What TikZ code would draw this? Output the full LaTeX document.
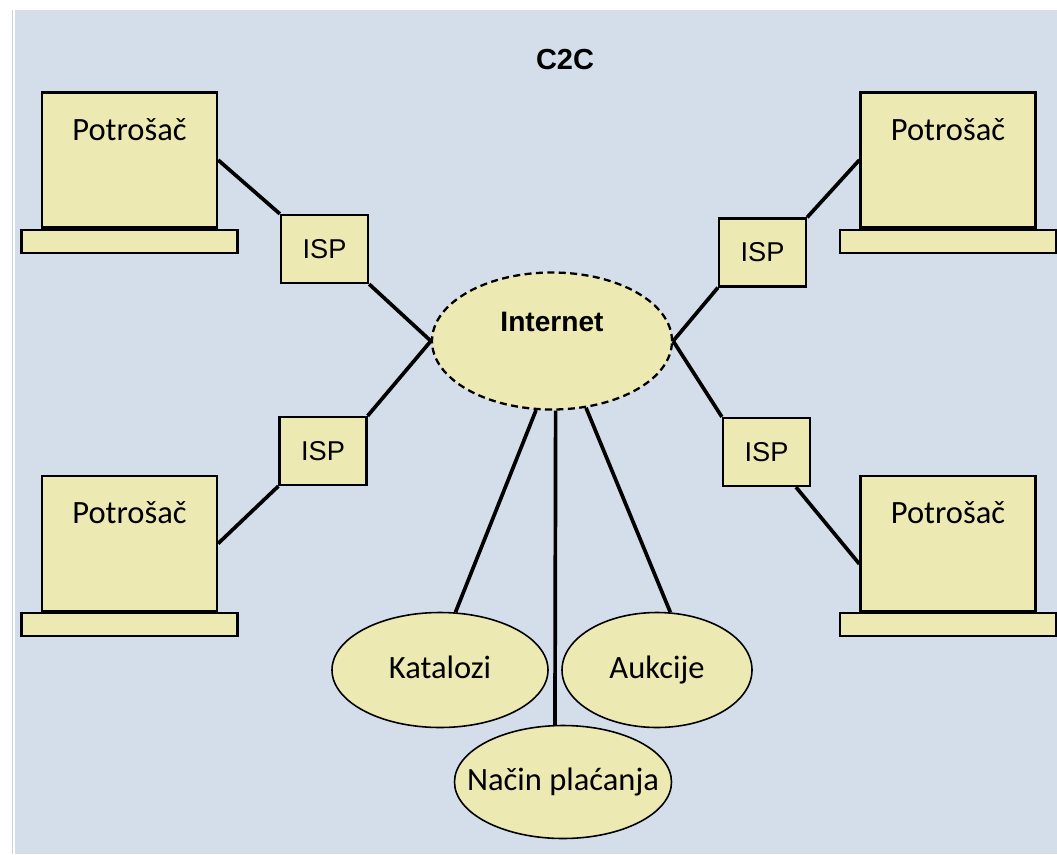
\documentclass[tikz,border=0pt]{standalone}
\usepackage{fontspec}
\setmainfont{Carlito}
\newfontfamily\arialfont{Liberation Sans}
\usepackage{tikz}
\usetikzlibrary{positioning}
\usetikzlibrary{shapes.geometric}
\definecolor{bgblue}{RGB}{212,222,235}
\definecolor{boxyellow}{RGB}{236,233,178}

\begin{document}
\begin{tikzpicture}
    [
    monitor/.style={rectangle,draw,fill=boxyellow,line width=1.3pt,minimum width=3.5cm,minimum height=2.7cm,inner sep=0pt},
    stand/.style={rectangle,draw,fill=boxyellow,line width=1.3pt,minimum width=4.32cm,minimum height=0.46cm,inner sep=0pt},
    isp/.style={rectangle,draw,fill=boxyellow,line width=1.3pt,minimum width=1.74cm,minimum height=1.36cm,inner sep=0pt,font=\arialfont\fontsize{15.5}{18}\selectfont},
    service/.style={ellipse,draw,fill=boxyellow,line width=0.9pt,inner sep=0pt,text height=0.42cm,text depth=0.1cm,font=\fontsize{18.5}{22}\selectfont},
    txt/.style={font=\fontsize{18.5}{22}\selectfont},
    link/.style={line width=2.1pt},
    ]
    \fill [white] (0,0) rectangle (21.14,17.08);
    \fill [bgblue] (0.30,0) rectangle (21.14,16.88);
    \draw [gray!35,line width=0.6pt] (0.25,0) -- (0.25,16.88);
    \useasboundingbox (0,0) rectangle (21.14,17.08);

    \node (title) at (11.30,15.88) [font=\arialfont\bfseries\fontsize{16.5}{19}\selectfont] {C2C};

    % consumers
    \node (tl) at (2.59,13.88) [monitor] {};
    \node (tls) [stand,below=0pt of tl] {};
    \node (tlt) at ([yshift=-0.76cm]tl.north) [txt] {Potrošač};
    \node (tr) at (18.96,13.88) [monitor] {};
    \node (trs) [stand,below=0pt of tr] {};
    \node (trt) at ([yshift=-0.76cm]tr.north) [txt] {Potrošač};
    \node (bl) at (2.59,6.21) [monitor] {};
    \node (bls) [stand,below=0pt of bl] {};
    \node (blt) at ([yshift=-0.76cm]bl.north) [txt] {Potrošač};
    \node (br) at (18.96,6.21) [monitor] {};
    \node (brs) [stand,below=0pt of br] {};
    \node (brt) at ([yshift=-0.76cm]br.north) [txt] {Potrošač};

    % providers
    \node (tli) at (6.49,12.10) [isp] {ISP};
    \node (bli) at (6.46,8.06) [isp] {ISP};
    \node (tri) at (15.25,12.03) [isp] {ISP};
    \node (bri) at (15.33,8.04) [isp] {ISP};

    % internet and services
    \node (inet) at (11.04,10.26) [ellipse,draw,fill=boxyellow,line width=1.3pt,dash pattern=on 4pt off 2.5pt,minimum width=4.8cm,minimum height=2.74cm] {};
    \node (inett) at (11.04,10.64) [font=\arialfont\bfseries\fontsize{16}{19}\selectfont] {Internet};
    \node (kat) at (8.80,3.68) [service,minimum width=4.32cm,minimum height=2.3cm] {Katalozi};
    \node (auk) at (13.14,3.68) [service,minimum width=3.8cm,minimum height=2.3cm] {Aukcije};
    \node (pay) at (11.26,1.44) [service,inner xsep=-0.45cm,minimum width=4.34cm,minimum height=2.26cm] {Način plaćanja};

    \draw [link] (tl.east) to (tli.north west);
    \draw [link] (tli.south east) to (inet.west);
    \draw [link] (inet.west) to (bli.north east);
    \draw [link] (bli.south west) to (bl.east);
    \draw [link] (tr.west) to (tri.north east);
    \draw [link] (tri.south west) to (inet.east);
    \draw [link] (inet.east) to (bri.north west);
    \draw [link] (bri.-50) to (br.-167);
    \draw [link] (inet.-103) to (kat.75);
    \draw [link] (inet.-63) to (auk.77);
    \draw [link] (inet.-87) to (pay.98);
  \end{tikzpicture}
\end{document}
